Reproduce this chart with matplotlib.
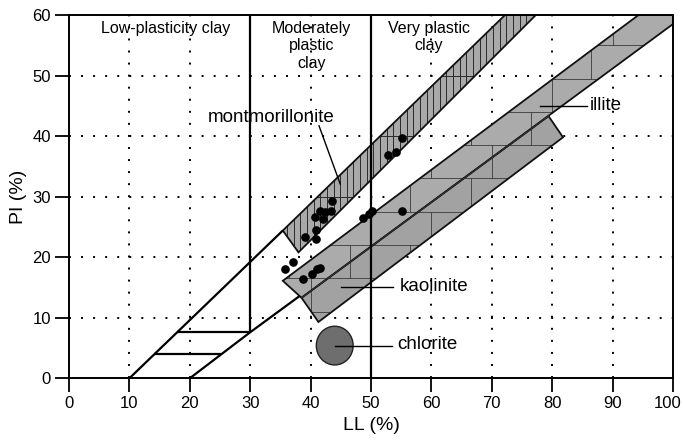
import numpy as np
import matplotlib
matplotlib.use("Agg")
import matplotlib.pyplot as plt
from matplotlib.patches import Polygon, Ellipse
from matplotlib.transforms import ScaledTranslation

plt.rcParams['font.family'] = ['Liberation Sans', 'DejaVu Sans']

# ---- data ----
ll_samples = [43.5, 41.6, 42.4, 43.3, 40.7, 42.0, 40.9, 39.0, 40.9, 37.1, 35.8,
              41.5, 41.0, 40.3, 38.8, 55.2, 54.1, 52.8, 55.2, 50.2, 49.6, 48.7]
pi_samples = [29.3, 27.7, 27.4, 27.7, 26.6, 26.3, 24.5, 23.4, 23.0, 19.2, 18.0,
              18.2, 18.1, 17.3, 16.4, 39.7, 37.4, 36.8, 27.6, 27.6, 27.1, 26.5]

mont_poly = [(35.4, 24.4), (38.0, 20.8), (77.3, 60.0), (72.2, 60.0)]
illite_poly = [(35.4, 16.1), (38.5, 13.3), (100.0, 58.5), (100.0, 60.0), (94.3, 60.0)]
kaol_poly = [(38.5, 13.3), (41.3, 9.3), (81.8, 39.8), (79.4, 43.3)]
chlorite_center = (44.0, 5.4)
chlorite_size = (6.1, 6.4)

upper_line = [(10, 0), (35.4, 24.4)]
lower_line = [(20, 0), (30, 7.6), (38.2, 13.6)]
v30 = [(30, 7.6), (30, 60)]
v50 = [(50, 0), (50, 60)]
h1 = [(17.9, 7.6), (30, 7.6)]
h2 = [(14.1, 3.95), (25.2, 3.95)]

zone_labels = ["Low-plasticity clay", "Moderately\nplastic\nclay", "Very plastic\nclay"]
zone_x = [16.0, 40.2, 59.6]

mineral_labels = ["montmorillonite", "illite", "kaolinite", "chlorite"]
label_xy = [(33.5, 43.0), (86.3, 45.0), (54.8, 15.2), (54.3, 5.6)]
pointer_from = [(41.4, 41.7), (78.0, 45.0), (45.1, 15.1), (44.0, 5.4)]
pointer_to = [(44.9, 32.1), (85.7, 45.0), (53.7, 15.1), (53.5, 5.4)]

xticks = list(range(0, 101, 10))
yticks = list(range(0, 61, 10))

# ---- figure ----
fig = plt.figure(figsize=(6.83, 4.41), dpi=100)
ax = fig.add_axes([0.1010, 0.1422, 0.8843, 0.8238])
ax.set_xlim(0, 100)
ax.set_ylim(0, 60)

# dotted grid
for x in xticks[1:-1]:
    ax.plot([x, x], [0, 60], color='black', lw=1.4, ls=(0, (1, 5.2)), zorder=1)
for y in yticks[1:-1]:
    ax.plot([0, 100], [y, y], color='black', lw=1.4, ls=(0, (1, 5.2)), zorder=1)

# montmorillonite band
mp = Polygon(mont_poly, closed=True, facecolor='#a9a9a9', edgecolor='none', zorder=2)
ax.add_patch(mp)
for x in np.arange(35, 80, 1.1):
    ln, = ax.plot([x, x], [0, 60], color='#2a2a2a', lw=0.7, zorder=3)
    ln.set_clip_path(mp)
for y in [30, 40, 50]:
    ln, = ax.plot([0, 100], [y, y], color='#2a2a2a', lw=0.7, zorder=3)
    ln.set_clip_path(mp)
ax.add_patch(Polygon(mont_poly, closed=True, facecolor='none', edgecolor='#111111', lw=1.3, zorder=4))

# illite and kaolinite bands
for poly, fc in [(illite_poly, '#ababab'), (kaol_poly, '#a2a2a2')]:
    p = Polygon(poly, closed=True, facecolor=fc, edgecolor='none', zorder=2)
    ax.add_patch(p)
    rows = np.arange(0, 61, 5.5)
    for i, y in enumerate(rows):
        ln, = ax.plot([0, 100], [y, y], color='#3a3a3a', lw=0.6, zorder=3)
        ln.set_clip_path(p)
        off = 0 if i % 2 == 0 else 6.5
        for x in np.arange(off, 101, 10):
            ln, = ax.plot([x, x], [y, y + 5.5], color='#3a3a3a', lw=0.6, zorder=3)
            ln.set_clip_path(p)
ax.add_patch(Polygon(illite_poly, closed=True, facecolor='none', edgecolor='#111111', lw=1.3, zorder=4))
ax.add_patch(Polygon(kaol_poly, closed=True, facecolor='none', edgecolor='#111111', lw=1.3, zorder=4))
ax.plot([kaol_poly[0][0], kaol_poly[3][0]], [kaol_poly[0][1], kaol_poly[3][1]],
        color='#333333', lw=0.8, zorder=5)

# chlorite
ax.add_patch(Ellipse(chlorite_center, chlorite_size[0], chlorite_size[1],
                     facecolor='#6e6e6e', edgecolor='#222222', lw=1.0, zorder=4))

# boundary lines
for seg in [upper_line, lower_line, v30, v50, h1, h2]:
    xs, ys = zip(*seg)
    ax.plot(xs, ys, color='black', lw=1.6, zorder=5, solid_capstyle='butt')

# samples
ax.plot(ll_samples, pi_samples, 'o', color='black', ms=5.2, zorder=6)

# zone labels
for t, x in zip(zone_labels, zone_x):
    ax.text(x, 59.0, t, ha='center', va='top', fontsize=11.5, linespacing=1.2, zorder=7)

# mineral labels and pointers
for t, (tx, ty), (x0, y0), (x1, y1) in zip(mineral_labels, label_xy, pointer_from, pointer_to):
    ax.plot([x0, x1], [y0, y1], color='black', lw=1.0, zorder=7)
    ha = 'center' if t == 'montmorillonite' else 'left'
    ax.text(tx, ty, t, ha=ha, va='center', fontsize=13.5, zorder=7)

# axes styling
ax.set_xticks(xticks)
ax.set_yticks(yticks)
ax.tick_params(direction='out', length=10, width=1.3, labelsize=12, pad=3)
for s in ax.spines.values():
    s.set_linewidth(1.4)
    s.set_zorder(8)
ax.set_xlabel('LL (%)', fontsize=14, labelpad=4)
ax.set_ylabel('PI (%)', fontsize=14, labelpad=4)

# keep the "100" label inside the canvas
last = ax.get_xticklabels()[-1]
last.set_transform(last.get_transform() + ScaledTranslation(-4 / 72, 0, fig.dpi_scale_trans))

fig.savefig('out.png', dpi=100)
